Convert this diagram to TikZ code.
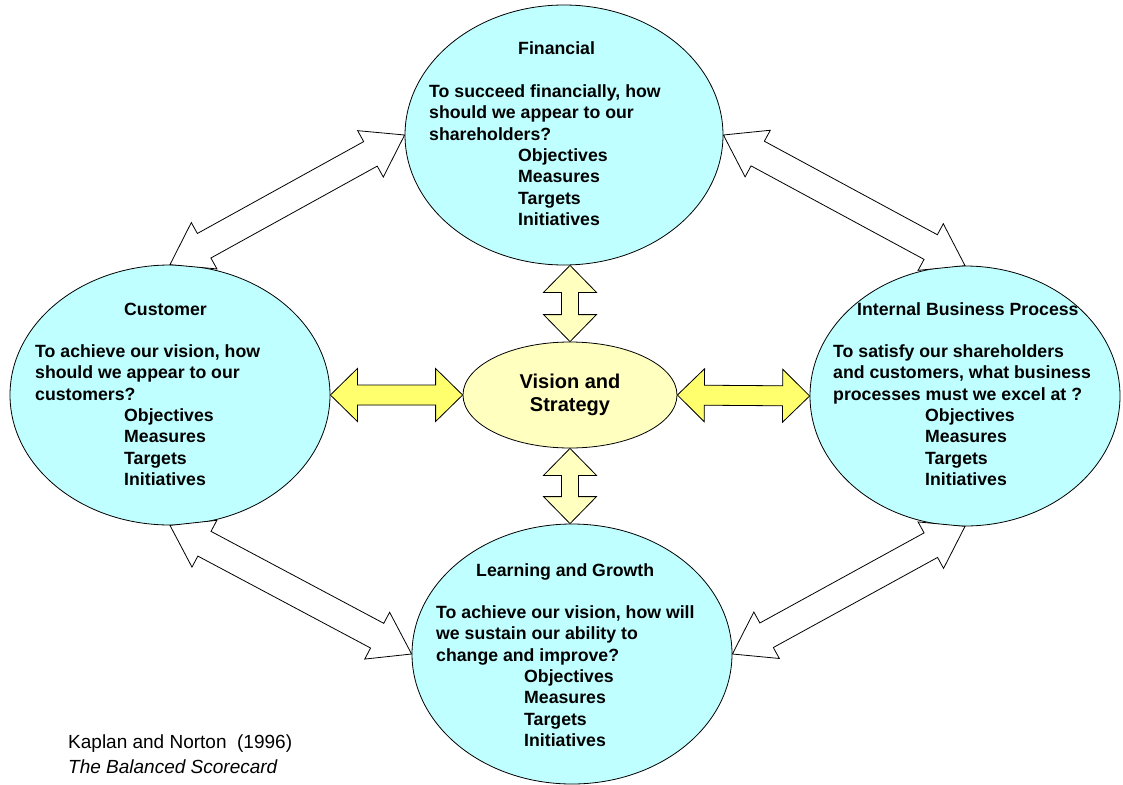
\documentclass[tikz,border=0pt]{standalone}
\usepackage{fontspec}
\setmainfont{Liberation Sans}
\usetikzlibrary{shapes.geometric,calc}

\definecolor{perspfill}{HTML}{C0FFFF}
\definecolor{visionfill}{HTML}{FFFFC0}
\definecolor{linkfill}{HTML}{FFFF6E}

% double-headed block arrow between two points:
% #1 style, #2 start, #3 end, #4 head length, #5 head half width, #6 shaft half width
\newcommand\blockarrow[6]{%
  \path (#2) coordinate (ba-s) (#3) coordinate (ba-e);
  \path ($(ba-s)!#4!(ba-e)$) coordinate (ba-h1)
        ($(ba-e)!#4!(ba-s)$) coordinate (ba-h2);
  \draw[#1] (ba-s)
    -- ($(ba-h1)!#5!90:(ba-e)$) -- ($(ba-h1)!#6!90:(ba-e)$)
    -- ($(ba-h2)!#6!-90:(ba-s)$) -- ($(ba-h2)!#5!-90:(ba-s)$)
    -- (ba-e)
    -- ($(ba-h2)!#5!90:(ba-s)$) -- ($(ba-h2)!#6!90:(ba-s)$)
    -- ($(ba-h1)!#6!-90:(ba-e)$) -- ($(ba-h1)!#5!-90:(ba-e)$)
    -- cycle;
}

\tikzset{
  persp/.style={ellipse, draw=black, line width=0.8pt, fill=perspfill, inner sep=0pt},
  vision/.style={ellipse, draw=black, line width=0.8pt, fill=visionfill, inner sep=0pt},
  txt/.style={inner sep=0pt, anchor=base west, font=\bfseries\fontsize{17.7}{21.3}\selectfont},
  visiontxt/.style={inner sep=0pt, anchor=base, font=\bfseries\fontsize{20}{23}\selectfont},
  srctxt/.style={inner sep=0pt, anchor=base west, font=\fontsize{19}{25}\selectfont},
  whitearrow/.style={fill=white, draw=black, line width=0.8pt, line join=miter},
  paleyellow/.style={fill=visionfill, draw=black, line width=0.8pt, line join=miter},
  brightyellow/.style={fill=linkfill, draw=black, line width=0.8pt, line join=miter},
  shade/.style={fill=black!45, draw=none}
}

\begin{document}
\begin{tikzpicture}[x=1pt, y=-1pt]
\path[use as bounding box, fill=white] (0,0) rectangle (1123,784);

% the five ellipses
\node[persp, minimum width=318, minimum height=260] (fin) at (564,135) {};
\node[persp, minimum width=320, minimum height=260] (cus) at (170,395) {};
\node[persp, minimum width=310, minimum height=260] (int) at (965,396) {};
\node[persp, minimum width=320, minimum height=260] (lrn) at (572,654) {};
\node[vision, minimum width=214, minimum height=106] (vis) at (570,395) {};

% outer two-way links between the perspectives
\blockarrow{whitearrow}{cus.north}{fin.west}{39pt}{26.5pt}{14pt}
\blockarrow{whitearrow}{fin.east}{int.north}{39pt}{26.5pt}{14pt}
\blockarrow{whitearrow}{int.south}{lrn.east}{39pt}{26.5pt}{14pt}
\blockarrow{whitearrow}{lrn.west}{cus.south}{39pt}{26.5pt}{14pt}

% links from vision and strategy to each perspective
\coordinate (vt) at (vis.north |- fin.south);
\coordinate (vb) at (vis.south |- lrn.north);
\begin{scope}[shift={(1.5,1.5)}]
  \blockarrow{shade}{vis.north}{vt}{27pt}{26.5pt}{8.5pt}
  \blockarrow{shade}{vis.south}{vb}{27pt}{26.5pt}{8.5pt}
  \blockarrow{shade}{cus.east}{vis.west}{27pt}{26.5pt}{10pt}
  \blockarrow{shade}{vis.east}{int.west}{27pt}{26.5pt}{10pt}
\end{scope}
\blockarrow{paleyellow}{vis.north}{vt}{27pt}{26.5pt}{8.5pt}
\blockarrow{paleyellow}{vis.south}{vb}{27pt}{26.5pt}{8.5pt}
\blockarrow{brightyellow}{cus.east}{vis.west}{27pt}{26.5pt}{10pt}
\blockarrow{brightyellow}{vis.east}{int.west}{27pt}{26.5pt}{10pt}

% Financial
\node[txt] (fin-t) at (518,55) {Financial};
\node[txt] (fin-q) at (429,97.5) {\begin{tabular}[t]{@{}l@{}}To succeed financially, how\\should we appear to our\\shareholders?\end{tabular}};
\node[txt] (fin-l) at (518,161.5) {\begin{tabular}[t]{@{}l@{}}Objectives\\Measures\\Targets\\Initiatives\end{tabular}};

% Customer
\node[txt] (cus-t) at (124,315) {Customer};
\node[txt] (cus-q) at (35,357.5) {\begin{tabular}[t]{@{}l@{}}To achieve our vision, how\\should we appear to our\\customers?\end{tabular}};
\node[txt] (cus-l) at (124,421.5) {\begin{tabular}[t]{@{}l@{}}Objectives\\Measures\\Targets\\Initiatives\end{tabular}};

% Internal Business Process
\node[txt] (int-t) at (857,315) {Internal Business Process};
\node[txt] (int-q) at (833,357.5) {\begin{tabular}[t]{@{}l@{}}To satisfy our shareholders\\and customers, what business\\processes must we excel at ?\end{tabular}};
\node[txt] (int-l) at (925,421.5) {\begin{tabular}[t]{@{}l@{}}Objectives\\Measures\\Targets\\Initiatives\end{tabular}};

% Learning and Growth
\node[txt] (lrn-t) at (476,576) {Learning and Growth};
\node[txt] (lrn-q) at (436,618.5) {\begin{tabular}[t]{@{}l@{}}To achieve our vision, how will\\we sustain our ability to\\change and improve?\end{tabular}};
\node[txt] (lrn-l) at (524,682.5) {\begin{tabular}[t]{@{}l@{}}Objectives\\Measures\\Targets\\Initiatives\end{tabular}};

% Vision and Strategy
\node[visiontxt] (vis-t) at (570,388) {\begin{tabular}[t]{@{}c@{}}Vision and\\Strategy\end{tabular}};

% source
\node[srctxt] (src) at (68,748) {\begin{tabular}[t]{@{}l@{}}Kaplan and Norton~~(1996)\\\itshape The Balanced Scorecard\end{tabular}};
\end{tikzpicture}
\end{document}
